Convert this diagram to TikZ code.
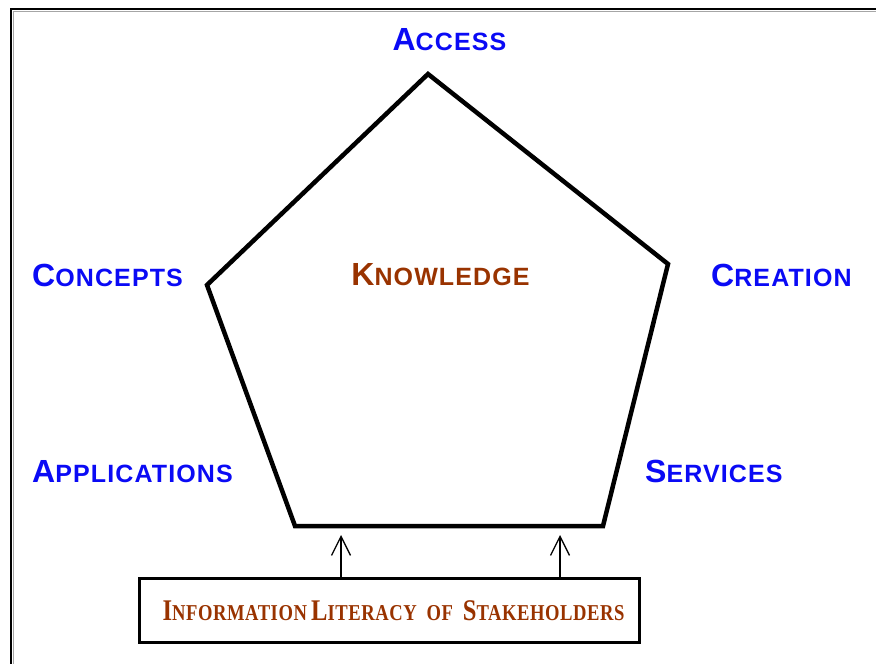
\documentclass[tikz,border=0pt]{standalone}
\usepackage{fontspec}
\usetikzlibrary{arrows.meta}
\setmainfont{Liberation Serif}
\newfontfamily\lsans[LetterSpace=4.5]{Liberation Sans}
\newfontfamily\lserif[LetterSpace=3]{Liberation Serif}
\definecolor{lblblue}{RGB}{10,10,245}
\definecolor{lblbrown}{RGB}{153,51,0}
\newcommand{\bsc}[2]{{\lsans\bfseries\fontsize{32}{32}\selectfont #1\fontsize{25}{25}\selectfont #2}}
\newcommand{\ssc}[2]{{\lserif\bfseries\fontsize{30}{30}\selectfont #1\fontsize{22.7}{22.7}\selectfont #2}}
\tikzset{
  lbl/.style={inner sep=0pt, text=lblblue},
  ctr/.style={inner sep=0pt, text=lblbrown},
  edge/.style={line width=4.5pt, line join=miter},
  up/.style={line width=1.3pt, -{Straight Barb[length=19pt,width=19pt,line width=1.3pt]}},
  frame/.style={line width=2pt, black},
  shade/.style={line width=1pt, gray!70}
}
\begin{document}
\begin{tikzpicture}[x=1pt,y=-1pt]
\useasboundingbox (0,0) rectangle (876,664);
% outer frame (cropped)
\draw[shade] (13,664) -- (13,11) -- (876,11);
\draw[frame] (11,664) -- (11,9) -- (876,9);
% pentagon
\coordinate (top) at (428,74);
\coordinate (lft) at (207,285);
\coordinate (rgt) at (668,264);
\coordinate (bl) at (295,526);
\coordinate (br) at (603,526);
\draw[edge] (top) -- (rgt) -- (br) -- (bl) -- (lft) -- cycle;
% labels
\node[lbl, anchor=base] (access) at (449.5,50) {\bsc{A}{CCESS}};
\node[lbl, anchor=base west] (concepts) at (32,286) {\bsc{C}{ONCEPTS}};
\node[lbl, anchor=base west] (creation) at (711,286) {\bsc{C}{REATION}};
\node[lbl, anchor=base west] (applications) at (32,482) {\bsc{A}{PPLICATIONS}};
\node[lbl, anchor=base west] (services) at (645,482) {\bsc{S}{ERVICES}};
\node[ctr, anchor=base] (knowledge) at (440.5,285) {\bsc{K}{NOWLEDGE}};
% bottom box
\node[draw, line width=3.4pt, minimum width=500pt, minimum height=64pt, inner sep=0pt, text=lblbrown] (lit) at (389.5,610.5)
  {\hspace*{8pt}\scalebox{0.82}[1]{\ssc{I}{NFORMATION}\hspace{5pt}\ssc{L}{ITERACY}\hspace{12pt}\ssc{}{OF}\hspace{12pt}\ssc{S}{TAKEHOLDERS}}};
% arrows
\coordinate (t1) at (341,535);
\coordinate (t2) at (560,535);
\draw[up] (lit.north -| t1) -- (t1);
\draw[up] (lit.north -| t2) -- (t2);
\end{tikzpicture}
\end{document}
